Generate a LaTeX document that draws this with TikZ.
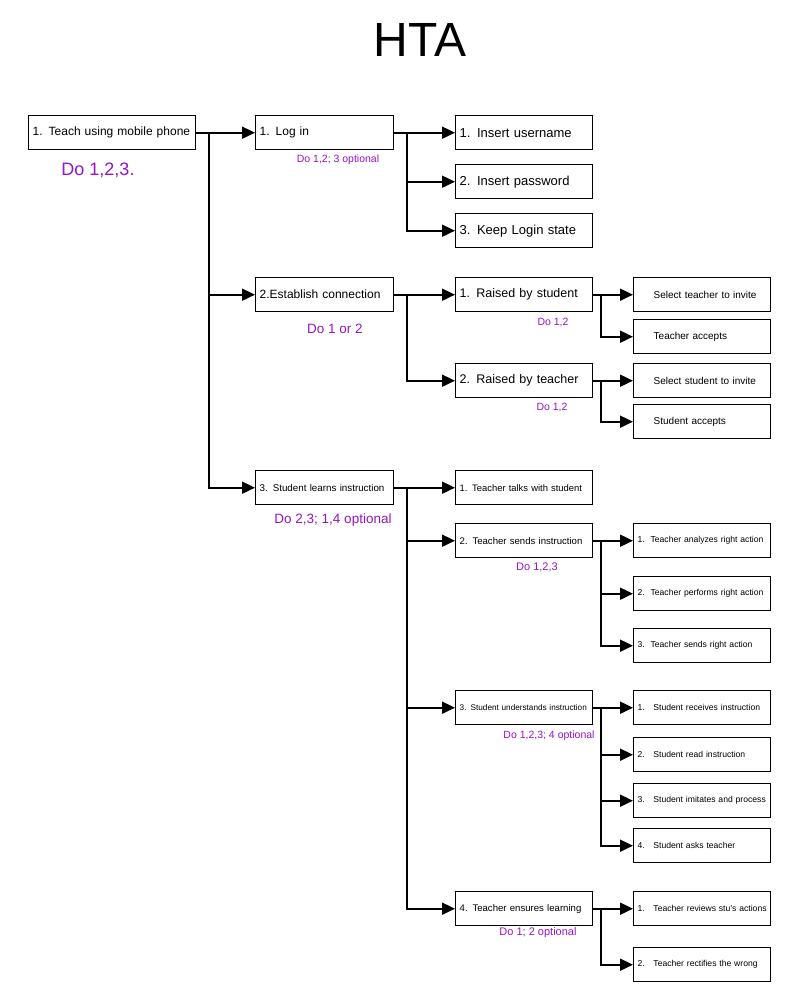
\documentclass[tikz,border=0pt]{standalone}
\usepackage{fontspec}
\setmainfont{Liberation Sans}
\usetikzlibrary{arrows.meta}
\definecolor{notepurple}{RGB}{150,20,200}
\newcommand{\fsz}[1]{\fontsize{#1}{#1}\selectfont}
\begin{document}
\begin{tikzpicture}[x=1pt,y=-1pt,
  box/.style={draw, line width=1.4pt, minimum height=34pt, inner xsep=4pt, inner ysep=2pt, anchor=north west, align=left},
  bzero/.style={box, text width=159pt},
  bone/.style={box, text width=130pt},
  btwo/.style={box, text width=129pt},
  bthree/.style={box, text width=129pt},
  note/.style={text=notepurple, inner sep=0pt},
  arr/.style={line width=1.9pt, -{Triangle[length=13pt,width=12pt]}}
]
\fill[white] (0,0) rectangle (800,1000);
\useasboundingbox (0,0) rectangle (800,1000);

\node[inner sep=0pt, font=\fsz{48}] (title) at (420,40) {HTA};

% level 0
\node[bzero, font=\fsz{12}] (L0) at (28,115) {1. Teach using mobile phone};
\node[note, font=\fsz{18}] (n0) at (98,170) {Do 1,2,3.};

% level 1
\node[bone, font=\fsz{12}] (A) at (255,115) {1. Log in};
\node[note, font=\fsz{10.5}] (nA) at (338,160) {Do 1,2; 3 optional};
\node[bone, font=\fsz{12}] (B) at (255,277) {2.Establish connection};
\node[note, font=\fsz{13.5}] (nB) at (335,329) {Do 1 or 2};
\node[bone, font=\fsz{9.8}] (C) at (255,470) {3. Student learns instruction};
\node[note, font=\fsz{13.5}] (nC) at (333,520) {Do 2,3; 1,4 optional};

% level 2 under Log in
\node[btwo, font=\fsz{13}] (A1) at (455,115) {1. Insert username};
\node[btwo, font=\fsz{13}] (A2) at (455,164) {2. Insert password};
\node[btwo, font=\fsz{13}] (A3) at (455,213) {3. Keep Login state};

% level 2 under Establish connection
\node[btwo, font=\fsz{12.5}] (B1) at (455,277) {1. Raised by student};
\node[note, font=\fsz{10.5}] (nB1) at (553,323) {Do 1,2};
\node[btwo, font=\fsz{12.5}] (B2) at (455,363) {2. Raised by teacher};
\node[note, font=\fsz{10.5}] (nB2) at (552,408) {Do 1,2};

\node[bthree, font=\fsz{10}] (B11) at (633,277) {\hspace*{16pt}Select teacher to invite};
\node[bthree, font=\fsz{10}] (B12) at (633,319) {\hspace*{16pt}Teacher accepts};
\node[bthree, font=\fsz{10}] (B21) at (633,363) {\hspace*{16pt}Select student to invite};
\node[bthree, font=\fsz{10}] (B22) at (633,404) {\hspace*{16pt}Student accepts};

% level 2 under Student learns instruction
\node[btwo, font=\fsz{9.4}] (C1) at (455,470) {1. Teacher talks with student};
\node[btwo, font=\fsz{9.6}] (C2) at (455,523) {2. Teacher sends instruction};
\node[note, font=\fsz{11}] (nC2) at (537,567) {Do 1,2,3};
\node[btwo, font=\fsz{8.2}] (C3) at (455,690) {3. Student understands instruction};
\node[note, font=\fsz{10.5}] (nC3) at (549,736) {Do 1,2,3; 4 optional};
\node[btwo, font=\fsz{9.6}] (C4) at (455,891) {4. Teacher ensures learning};
\node[note, font=\fsz{11}] (nC4) at (538,933) {Do 1; 2 optional};

\node[bthree, font=\fsz{8.6}] (C21) at (633,523) {1.\ \ Teacher analyzes right action};
\node[bthree, font=\fsz{8.6}] (C22) at (633,576) {2.\ \ Teacher performs right action};
\node[bthree, font=\fsz{8.6}] (C23) at (633,628) {3.\ \ Teacher sends right action};

\node[bthree, font=\fsz{8.6}] (C31) at (633,690) {1.\ \ \ Student receives instruction};
\node[bthree, font=\fsz{8.6}] (C32) at (633,737) {2.\ \ \ Student read instruction};
\node[bthree, font=\fsz{8.6}] (C33) at (633,783) {3.\ \ \ Student imitates and process};
\node[bthree, font=\fsz{8.6}] (C34) at (633,828) {4.\ \ \ Student asks teacher};

\node[bthree, font=\fsz{8.6}] (C41) at (633,891) {1.\ \ \ Teacher reviews stu's actions};
\node[bthree, font=\fsz{8.6}] (C42) at (633,947) {2.\ \ \ Teacher rectifies the wrong};

% connectors
\foreach \c in {A,B,C}
  \draw[arr] (L0.east) -- ([xshift=13pt]L0.east) |- (\c.west);
\foreach \c in {A1,A2,A3}
  \draw[arr] (A.east) -- ([xshift=13pt]A.east) |- (\c.west);
\foreach \c in {B1,B2}
  \draw[arr] (B.east) -- ([xshift=13pt]B.east) |- (\c.west);
\foreach \c in {C1,C2,C3,C4}
  \draw[arr] (C.east) -- ([xshift=13pt]C.east) |- (\c.west);
\foreach \c in {B11,B12}
  \draw[arr] (B1.east) -- ([xshift=8pt]B1.east) |- (\c.west);
\foreach \c in {B21,B22}
  \draw[arr] (B2.east) -- ([xshift=8pt]B2.east) |- (\c.west);
\foreach \c in {C21,C22,C23}
  \draw[arr] (C2.east) -- ([xshift=8pt]C2.east) |- (\c.west);
\foreach \c in {C31,C32,C33,C34}
  \draw[arr] (C3.east) -- ([xshift=8pt]C3.east) |- (\c.west);
\foreach \c in {C41,C42}
  \draw[arr] (C4.east) -- ([xshift=8pt]C4.east) |- (\c.west);
\end{tikzpicture}
\end{document}
